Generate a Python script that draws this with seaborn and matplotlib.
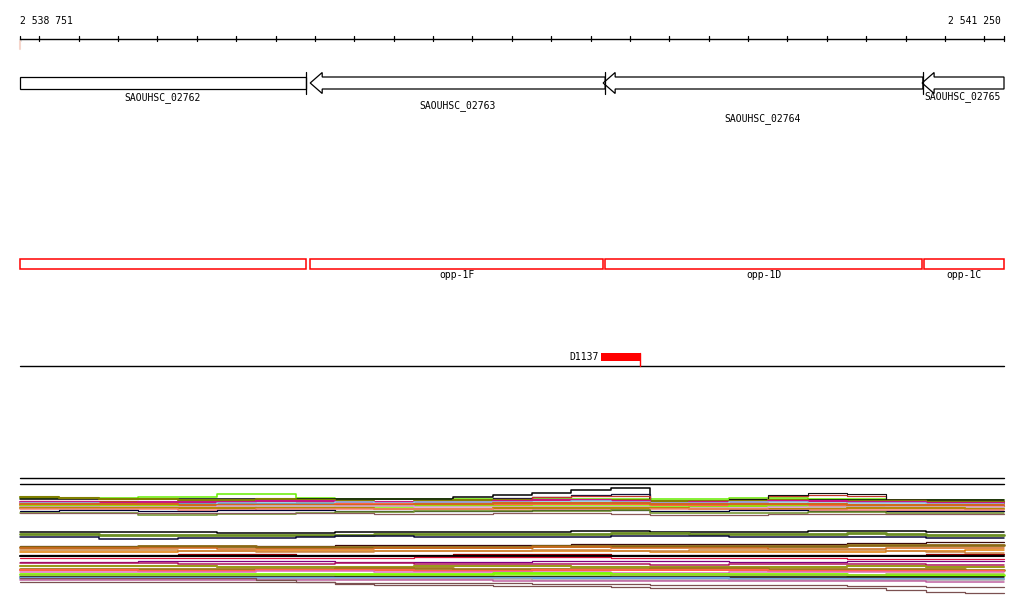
import numpy as np
import pandas as pd
import matplotlib
matplotlib.use('Agg')
import matplotlib.pyplot as plt
from matplotlib.patches import Polygon, Rectangle
import seaborn as sns

# region shown
view_start = 2538751
view_end = 2541250

# genes (all on reverse strand)
gene_names = ['SAOUHSC_02762', 'SAOUHSC_02763', 'SAOUHSC_02764', 'SAOUHSC_02765']
gene_starts = [2538100, 2539488, 2540232, 2541042]
gene_ends = [2539477, 2540237, 2541044, 2541900]

# operon annotation
operon_names = ['', 'opp-1F', 'opp-1D', 'opp-1C']
operon_starts = [2538100, 2539488, 2540237, 2541046]
operon_ends = [2539477, 2540232, 2541042, 2541900]

# feature track
feature_name = 'D1137'
feature_start = 2540227
feature_end = 2540326

# coverage profiles, one value per 100 bp bin
bin_starts = [2538751, 2538851, 2538951, 2539051, 2539151, 2539251, 2539351, 2539451,
              2539551, 2539651, 2539751, 2539851, 2539951, 2540051, 2540151, 2540251,
              2540351, 2540451, 2540551, 2540651, 2540751, 2540851, 2540951, 2541051, 2541151]

band1_values = [
    [498,498,498,497,497,494,494,498,499,499,499,499,499,499,499,499,499,499,498,498,499,499,500,500,500],
    [499,499,499,499,499,499,499,499,499,499,499,497,495,493,490,488,501,501,501,501,500,500,500,500,500],
    [506,506,505,505,505,504,504,504,505,505,504,500,498,497,495,494,505,505,506,506,506,506,506,506,506],
    [501,501,501,502,502,501,501,502,502,502,501,500,499,497,496,496,502,502,499,496,495,496,500,501,501],
    [503,503,503,503,503,503,503,503,503,503,503,503,503,503,503,503,503,502,499,495,493,494,501,503,503],
    [497,498,499,499,500,500,499,500,501,502,501,500,500,500,500,500,501,501,501,500,501,501,501,502,502],
    [502,502,503,502,502,502,501,501,502,502,502,502,501,500,500,501,503,502,502,501,501,502,502,503,503],
    [503,503,504,504,504,503,503,503,502,503,502,502,502,502,501,502,503,503,502,502,503,503,503,504,504],
    [505,505,505,506,506,505,505,505,504,504,505,505,505,504,504,504,505,506,506,505,505,505,506,506,506],
    [504,504,504,504,505,505,505,505,505,505,504,504,503,503,503,503,504,504,504,504,504,505,505,505,505],
    [506,506,506,506,507,507,506,506,507,507,506,506,506,506,506,506,507,507,506,506,507,507,507,507,508],
    [507,507,507,507,507,506,506,506,506,506,507,507,507,507,507,507,508,508,508,507,507,507,507,507,507],
    [508,508,508,508,508,508,508,508,508,509,509,509,508,508,508,508,508,509,509,509,509,508,508,508,509],
    [509,509,509,509,510,510,509,509,509,509,509,509,510,510,510,510,509,509,509,510,510,510,510,510,510],
    [511,510,510,511,511,510,510,510,511,511,511,511,511,510,510,510,511,511,510,510,511,511,511,511,511],
    [513,513,513,515,515,514,514,513,512,512,511,511,511,511,511,510,513,513,513,513,512,512,513,513,513],
    [513,513,513,513,513,513,513,513,513,514,514,514,513,513,513,514,515,515,515,514,514,514,514,514,514],
]
band1_colors = ['#66ee00', '#000000', '#14143c', '#c0392b', '#111111', '#808000', '#c71585', '#87ceeb',
                '#ff6347', '#d2691e', '#7cfc00', '#dda0dd', '#b8860b', '#fa8072', '#000033', '#6b8e23', '#8b5a5a']
band1_widths = [1.1, 1.1, 0.9, 0.9, 0.8, 1.5, 1.5, 1.1, 1.5, 1.5, 1.1, 1.1, 1.5, 1.1, 0.9, 1.1, 0.9]

band2_values = [
    [532,532,532,532,532,533,533,533,532,532,532,532,532,532,531,531,532,532,532,532,531,531,531,532,532],
    [534,534,535,535,535,535,535,535,535,534,534,534,534,534,534,533,533,534,534,534,534,533,534,535,535],
    [537,537,539,539,538,538,538,537,536,536,537,537,537,537,537,536,536,536,537,537,537,537,537,538,538],
]
band2_colors = ['#000000', '#6b8e23', '#0a0a3a']
band2_widths = [1.1, 2.0, 1.1]

band3_values = [
    [546,546,546,546,546,546,546,546,545,545,545,545,545,545,544,544,544,544,544,544,544,543,543,542,542],
    [547,547,547,546,546,546,547,547,547,547,547,547,547,546,546,546,546,546,546,546,546,545,545,545,545],
    [548,548,548,548,548,549,549,549,549,548,548,548,548,547,547,548,548,548,548,549,549,549,548,548,548],
    [552,552,552,552,551,551,551,551,551,551,551,551,551,551,551,551,552,552,552,552,552,552,551,551,550],
    [550,550,550,550,551,551,552,552,552,551,551,551,551,550,550,551,551,550,550,550,550,550,551,552,553],
    [555,555,555,555,554,554,554,555,555,555,555,554,554,554,554,555,555,555,555,555,555,555,555,554,554],
    [556,556,556,556,556,556,556,556,556,556,556,556,556,556,556,556,556,556,556,556,556,556,556,556,556],
    [558,558,558,558,558,558,558,558,558,558,557,557,557,557,557,558,558,558,558,558,558,559,559,559,559],
    [562,562,562,561,561,561,561,561,562,562,562,562,562,561,561,561,561,561,562,562,562,561,561,561,561],
    [563,563,563,563,564,564,564,564,563,563,564,564,564,564,564,564,565,565,564,564,564,564,564,565,565],
    [566,566,566,566,566,567,567,567,567,567,566,566,566,566,567,567,567,567,567,567,567,566,566,567,567],
    [569,569,569,569,569,569,569,569,568,568,568,569,569,569,569,569,568,568,568,569,569,569,569,569,570],
    [570,570,570,571,571,571,570,570,570,570,571,571,571,570,570,570,570,570,570,571,571,571,571,571,571],
    [572,572,572,572,572,572,571,571,571,572,572,572,572,572,572,573,573,573,572,572,572,572,572,572,572],
    [574,574,574,574,574,574,574,574,574,574,574,574,573,573,573,574,574,574,574,574,574,575,575,575,575],
    [575,575,575,575,575,575,575,575,576,576,576,576,576,576,576,575,575,575,575,575,575,575,574,574,574],
    [577,577,577,577,577,577,577,577,577,577,577,577,577,577,577,577,577,577,577,577,577,577,577,577,577],
    [578,578,578,578,578,578,578,578,578,578,578,578,578,578,578,578,578,578,579,579,579,579,579,579,579],
    [579,579,579,579,579,579,579,579,579,579,579,579,579,580,580,580,580,580,580,580,580,580,580,580,580],
    [580,580,580,580,580,580,580,580,580,580,580,580,581,581,581,581,581,581,581,581,581,581,581,582,582],
    [582,582,582,582,582,582,582,582,583,583,583,583,583,584,584,584,585,585,585,585,585,586,586,587,587],
    [578,578,578,578,578,578,580,582,584,585,585,585,586,586,586,587,588,588,588,588,588,588,590,592,593],
]
band3_colors = ['#3b0a0a', '#8b6914', '#d2691e', '#e07b00', '#cd853f', '#8b0000', '#000000', '#dc143c',
                '#800080', '#b0135c', '#9a9a1a', '#a0781e', '#ff6347', '#e070c0', '#7cfc00', '#9acd32',
                '#000000', '#6ca6e0', '#a9a9a9', '#c060a0', '#7b5050', '#7b5050']
band3_widths = [0.9, 2.0, 1.1, 1.1, 1.1, 0.9, 1.5, 0.9, 0.9, 1.1, 1.5, 2.0, 1.5, 1.1, 2.0, 1.1,
                1.1, 1.5, 1.1, 1.1, 0.9, 0.9]

# ---- build long table for seaborn
rows = []
all_vals = band1_values + band2_values + band3_values
all_cols = band1_colors + band2_colors + band3_colors
all_w = band1_widths + band2_widths + band3_widths
for i, vals in enumerate(all_vals):
    xs = bin_starts + [view_end]
    ys = vals + [vals[-1]]
    for x, y in zip(xs, ys):
        rows.append({'pos': x, 'depth': y, 'track': 't%02d' % i})
df = pd.DataFrame(rows)
color_map = {'t%02d' % i: c for i, c in enumerate(all_cols)}
width_map = {'t%02d' % i: w for i, w in enumerate(all_w)}

sns.set_theme(style='white')
plt.rcParams['font.family'] = ['DejaVu Sans Mono']
plt.rcParams['text.color'] = 'black'

fig = plt.figure(figsize=(10.24, 6.11), dpi=100)
ax = fig.add_axes([0, 0, 1, 1])

bp_per_px = (view_end - view_start) / 984.0
pad = 20 * bp_per_px

def clip(v):
    return min(max(v, view_start), view_end)

# ruler
ax.plot([view_start, view_end], [38.5, 38.5], color='black', lw=1)
ticks = [view_start] + list(range(2538800, view_end, 100)) + [view_end]
for t in ticks:
    ax.plot([t, t], [36, 41], color='black', lw=0.9)
ax.plot([view_start, view_start], [41, 49], color='#f6d6cc', lw=1.5)
ax.text(view_start, 20.5, '2 538 751', fontsize=7, ha='left', va='center', color='black')
ax.text(view_end - 3 * bp_per_px, 20.5, '2 541 250', fontsize=7, ha='right', va='center', color='black')

# genes
head = 12 * bp_per_px
gene_label_y = [97.5, 106, 119, 97]
for name, s, e, ly in zip(gene_names, gene_starts, gene_ends, gene_label_y):
    cs, ce = clip(s), clip(e)
    if s > view_start:
        pts = [(cs, 83), (cs + head, 72.5), (cs + head, 77), (ce, 77), (ce, 89),
               (cs + head, 89), (cs + head, 93.5)]
    else:
        pts = [(cs, 77), (ce, 77), (ce, 89), (cs, 89)]
    ax.add_patch(Polygon(pts, closed=True, facecolor='white', edgecolor='black', lw=0.9))
    if e < view_end:
        ax.plot([ce, ce], [72, 93.5], color='black', lw=0.9)
    ax.text((cs + ce) / 2, ly, name, fontsize=7, ha='center', va='center', color='black')

# operons
for name, s, e in zip(operon_names, operon_starts, operon_ends):
    cs, ce = clip(s), clip(e)
    ax.add_patch(Rectangle((cs, 258.5), ce - cs, 10, facecolor='none', edgecolor='red', lw=1.1))
    if name:
        ax.text((cs + ce) / 2, 275.5, name, fontsize=7, ha='center', va='center', color='black')

# feature track
ax.plot([view_start, view_end], [366, 366], color='black', lw=1)
ax.add_patch(Rectangle((feature_start, 353), feature_end - feature_start, 8, facecolor='red', edgecolor='none'))
ax.plot([feature_end, feature_end], [353, 366], color='red', lw=1)
ax.text(feature_start - 2 * bp_per_px, 357, feature_name, fontsize=7, ha='right', va='center', color='black')

# coverage tracks
ax.plot([view_start, view_end], [478, 478], color='black', lw=1)
ax.plot([view_start, view_end], [484, 484], color='black', lw=1)
sns.lineplot(data=df, x='pos', y='depth', hue='track', size='track', palette=color_map,
             sizes=width_map, estimator=None, sort=False, drawstyle='steps-post',
             legend=False, ax=ax)

ax.set_xlim(view_start - pad, view_end + pad)
ax.set_ylim(611, 0)
ax.axis('off')

fig.savefig('out.png', dpi=100, facecolor='white')
